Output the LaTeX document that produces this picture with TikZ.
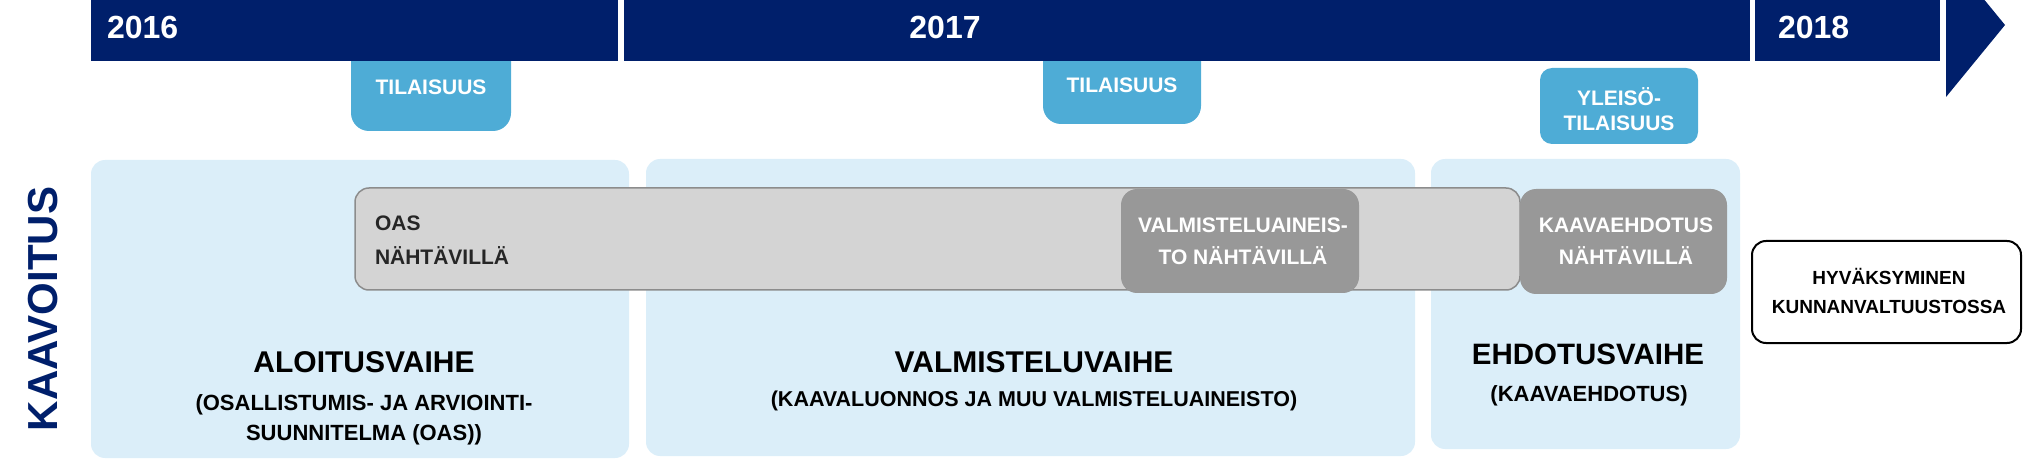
\documentclass[tikz,border=0pt]{standalone}
\usepackage{fontspec}
\setmainfont{Liberation Sans}
\definecolor{navy}{RGB}{0,31,107}
\definecolor{evblue}{RGB}{78,172,214}
\definecolor{phasebg}{RGB}{219,238,249}
\definecolor{barfill}{RGB}{212,212,212}
\definecolor{barline}{RGB}{140,140,140}
\definecolor{darkbox}{RGB}{152,152,152}
\newcommand\mysz[1]{\fontsize{#1}{#1}\selectfont}
\begin{document}
\begin{tikzpicture}[x=1pt,y=-1pt,
  every node/.style={inner sep=0pt, outer sep=0pt},
  txt/.style={font=\bfseries, anchor=base},
  phasebox/.style={fill=phasebg, rounded corners=14pt, anchor=north west},
  eventbox/.style={fill=evblue, rounded corners=18pt, anchor=north west},
  graybar/.style={fill=barfill, draw=barline, line width=1.5pt, rounded corners=14pt, anchor=north west},
  darkbx/.style={fill=darkbox, rounded corners=16pt, anchor=north west},
  finalbox/.style={fill=white, draw=black, line width=2pt, rounded corners=14pt, anchor=north west},
  yearseg/.style={fill=navy, anchor=north west}]
\useasboundingbox (0,0) rectangle (2026,470);
\clip (0,0) rectangle (2026,470);
% event boxes (top hidden under bar)
\node[eventbox, minimum width=160pt, minimum height=91pt] (ev1) at (351,40) {};
\node[eventbox, minimum width=158pt, minimum height=84pt] (ev2) at (1043,40) {};
\node[eventbox, rounded corners=12pt, minimum width=158pt, minimum height=76pt] (ev3) at (1540,68) {};
% year bar
\node[yearseg, minimum width=527.4pt, minimum height=72pt] (y16) at (90.6,-11) {};
\node[yearseg, minimum width=1126pt, minimum height=72pt] (y17) at (624,-11) {};
\node[yearseg, minimum width=185pt, minimum height=72pt] (y18) at (1755,-11) {};
\fill[navy] (1946,-47) -- (2005,25) -- (1946,97) -- cycle;
\node[txt, text=white, anchor=base west, font=\bfseries\mysz{32}] (t16) at (107,38.5) {2016};
\node[txt, text=white, font=\bfseries\mysz{32}] (t17) at (945,38.5) {2017};
\node[txt, text=white, anchor=base west, font=\bfseries\mysz{32}] (t18) at (1778,38.5) {2018};
% event texts
\node[txt, text=white, font=\bfseries\mysz{21}] (ev1t) at (431,94.5) {TILAISUUS};
\node[txt, text=white, font=\bfseries\mysz{21}] (ev2t) at (1122,92.5) {TILAISUUS};
\node[txt, text=white, font=\bfseries\mysz{21}] (ev3a) at (1619,106) {YLEISÖ-};
\node[txt, text=white, font=\bfseries\mysz{21}] (ev3b) at (1619,131) {TILAISUUS};
% phase boxes
\node[phasebox, minimum width=538pt, minimum height=298pt] (p1) at (91,160) {};
\node[phasebox, minimum width=769pt, minimum height=297pt] (p2) at (646,159) {};
\node[phasebox, minimum width=309pt, minimum height=290pt] (p3) at (1431,159) {};
% grey bar and dark boxes
\node[graybar, minimum width=1165pt, minimum height=102pt] (gb) at (355,188) {};
\node[darkbx, minimum width=238pt, minimum height=104pt] (d1) at (1121,189) {};
\node[darkbx, minimum width=207pt, minimum height=105pt] (d2) at (1520,189) {};
\node[finalbox, minimum width=269pt, minimum height=102pt] (fb) at (1752,241) {};
% texts in bar
\node[txt, anchor=base west, text=black!85, font=\bfseries\mysz{21}] (oas1) at (375,230.5) {OAS};
\node[txt, anchor=base west, text=black!85, font=\bfseries\mysz{21}] (oas2) at (375,265) {NÄHTÄVILLÄ};
\node[txt, text=white, font=\bfseries\mysz{21}] (d1a) at (1243,232.5) {VALMISTELUAINEIS-};
\node[txt, text=white, font=\bfseries\mysz{21}] (d1b) at (1243,265) {TO NÄHTÄVILLÄ};
\node[txt, text=white, font=\bfseries\mysz{21}] (d2a) at (1626,232.5) {KAAVAEHDOTUS};
\node[txt, text=white, font=\bfseries\mysz{21}] (d2b) at (1626,265) {NÄHTÄVILLÄ};
\node[txt, text=black, font=\bfseries\mysz{19}] (fba) at (1889,285) {HYVÄKSYMINEN};
\node[txt, text=black, font=\bfseries\mysz{19}] (fbb) at (1889,313) {KUNNANVALTUUSTOSSA};
% phase titles
\node[txt, text=black, font=\bfseries\mysz{30}] (p1t) at (364,372) {ALOITUSVAIHE};
\node[txt, text=black, font=\bfseries\mysz{22}] (p1s) at (364,410) {(OSALLISTUMIS- JA ARVIOINTI-};
\node[txt, text=black, font=\bfseries\mysz{22}] (p1u) at (364,440) {SUUNNITELMA (OAS))};
\node[txt, text=black, font=\bfseries\mysz{30}] (p2t) at (1034,372) {VALMISTELUVAIHE};
\node[txt, text=black, font=\bfseries\mysz{21.5}] (p2s) at (1034,406) {(KAAVALUONNOS JA MUU VALMISTELUAINEISTO)};
\node[txt, text=black, font=\bfseries\mysz{29.5}] (p3t) at (1588,364) {EHDOTUSVAIHE};
\node[txt, text=black, font=\bfseries\mysz{22}] (p3s) at (1589,401) {(KAAVAEHDOTUS)};
% side label
\node[txt, rotate=90, text=navy, font=\bfseries\mysz{42}] (side) at (57.5,309) {KAAVOITUS};
\end{tikzpicture}
\end{document}
